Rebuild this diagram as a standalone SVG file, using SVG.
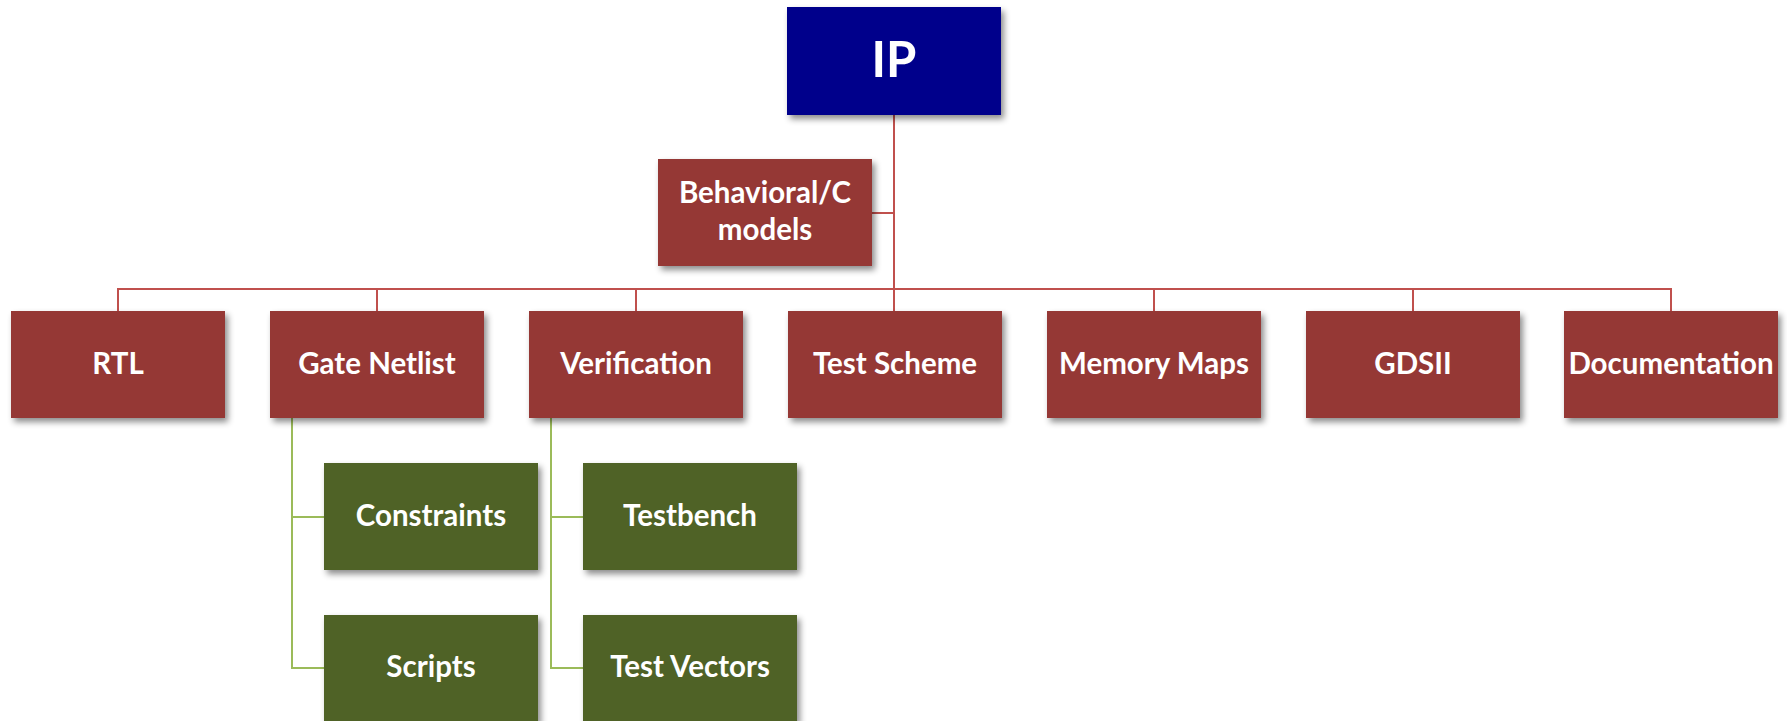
<svg xmlns="http://www.w3.org/2000/svg" width="1787" height="721" viewBox="0 0 1787 721">
  <defs>
    <filter id="sh" x="-10%" y="-10%" width="125%" height="135%">
      <feDropShadow dx="3" dy="4" stdDeviation="3" flood-color="#000" flood-opacity="0.45"/>
    </filter>
    <style>
      .red { fill: #953735; filter: url(#sh); }
      .green { fill: #4F6228; filter: url(#sh); }
      .blue { fill: #00008B; filter: url(#sh); }
      .t { font-family: Lato, "Open Sans", "Liberation Sans", sans-serif; font-weight: bold; fill: #FFFFFF; text-anchor: middle; font-size: 29.5px; }
      .big { font-size: 49px; }
      .rc { stroke: #C0504D; stroke-width: 2; fill: none; }
      .gc { stroke: #9BBB59; stroke-width: 2; fill: none; }
    </style>
  </defs>
  <rect width="1787" height="721" fill="#FFFFFF"/>
  <g id="connectors">
    <path class="rc" d="M894 115 V311"/>
    <path class="rc" d="M872 213 H894"/>
    <path class="rc" d="M118 311 V289 H1671 V311"/>
    <path class="rc" d="M377 289 V311"/>
    <path class="rc" d="M636 289 V311"/>
    <path class="rc" d="M1154 289 V311"/>
    <path class="rc" d="M1413 289 V311"/>
    <path class="gc" d="M292 418 V668 H324"/>
    <path class="gc" d="M292 517 H324"/>
    <path class="gc" d="M551 418 V668 H583"/>
    <path class="gc" d="M551 517 H583"/>
  </g>
  <g id="ip">
    <rect class="blue" x="787" y="7" width="214" height="108"/>
    <text class="t big" x="894" y="77">IP</text>
  </g>
  <g id="behavioral">
    <rect class="red" x="658" y="159" width="214" height="107"/>
    <text class="t" x="765" y="203">Behavioral/C</text>
    <text class="t" x="765" y="240">models</text>
  </g>
  <g id="rtl">
    <rect class="red" x="11" y="311" width="214" height="107"/>
    <text class="t" x="118" y="374">RTL</text>
  </g>
  <g id="gate-netlist">
    <rect class="red" x="270" y="311" width="214" height="107"/>
    <text class="t" x="377" y="374">Gate Netlist</text>
  </g>
  <g id="verification">
    <rect class="red" x="529" y="311" width="214" height="107"/>
    <text class="t" x="636" y="374">Verification</text>
  </g>
  <g id="test-scheme">
    <rect class="red" x="788" y="311" width="214" height="107"/>
    <text class="t" x="895" y="374">Test Scheme</text>
  </g>
  <g id="memory-maps">
    <rect class="red" x="1047" y="311" width="214" height="107"/>
    <text class="t" x="1154" y="374">Memory Maps</text>
  </g>
  <g id="gdsii">
    <rect class="red" x="1306" y="311" width="214" height="107"/>
    <text class="t" x="1413" y="374">GDSII</text>
  </g>
  <g id="documentation">
    <rect class="red" x="1564" y="311" width="214" height="107"/>
    <text class="t" x="1671" y="374">Documentation</text>
  </g>
  <g id="constraints">
    <rect class="green" x="324" y="463" width="214" height="107"/>
    <text class="t" x="431" y="526">Constraints</text>
  </g>
  <g id="scripts">
    <rect class="green" x="324" y="615" width="214" height="107"/>
    <text class="t" x="431" y="677">Scripts</text>
  </g>
  <g id="testbench">
    <rect class="green" x="583" y="463" width="214" height="107"/>
    <text class="t" x="690" y="526">Testbench</text>
  </g>
  <g id="test-vectors">
    <rect class="green" x="583" y="615" width="214" height="107"/>
    <text class="t" x="690" y="677">Test Vectors</text>
  </g>
</svg>
